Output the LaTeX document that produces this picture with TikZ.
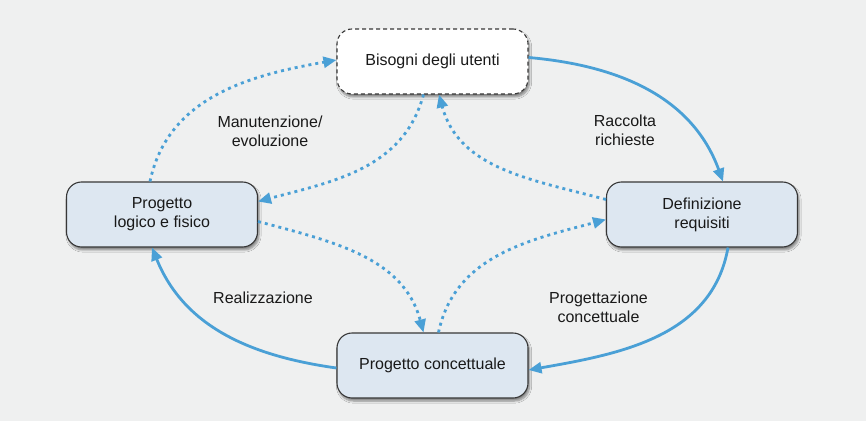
\documentclass[tikz,border=0pt]{standalone}
\usepackage{fontspec}
\setmainfont{Liberation Sans}
\usetikzlibrary{arrows.meta,positioning,shadows.blur}
\definecolor{sfondo}{RGB}{239,240,240}
\definecolor{azzurro}{RGB}{221,231,241}
\definecolor{freccia}{RGB}{74,160,214}
\definecolor{bordo}{RGB}{55,55,55}
\definecolor{testo}{RGB}{25,25,25}
\tikzset{
  fase/.style={draw=bordo,line width=1.1pt,fill=azzurro,rounded corners=15pt,
    minimum width=191pt,minimum height=65pt,inner sep=0pt,align=center,
    text=testo,font=\fontsize{16}{19}\selectfont,
    blur shadow={shadow xshift=1.5pt,shadow yshift=-3pt,shadow blur steps=6,shadow opacity=45}},
  utenti/.style={fase,fill=white,dashed,dash pattern=on 4pt off 3pt},
  etichetta/.style={align=center,text=testo,font=\fontsize{16}{19}\selectfont},
  ciclo/.style={freccia,line width=2.8pt,-{Triangle[length=13pt,width=11pt]}},
  ritorno/.style={ciclo,dash pattern=on 3pt off 4pt}
}
\begin{document}
\begin{tikzpicture}[x=1pt,y=1pt]
\fill[sfondo] (0,0) rectangle (866,421);
\useasboundingbox (0,0) rectangle (866,421);
% fasi
\node[utenti] (bis) at (432.5,359.5) {Bisogni degli utenti};
\node[fase] (log) at (162,206.5) {Progetto\\logico e fisico};
\node[fase] (def) at (702,206.5) {Definizione\\requisiti};
\node[fase] (con) at (432.5,55.5) {Progetto concettuale};
% ciclo principale
\draw[ciclo] ([yshift=4pt]bis.east) to[out=-5,in=110] ([xshift=21pt]def.north);
\draw[ciclo] ([xshift=26pt]def.south) to[out=-100,in=10] ([yshift=-4.5pt]con.east);
\draw[ciclo] ([yshift=-2.5pt]con.west) to[out=172,in=-68] ([xshift=-10pt]log.south);
% ritorni
\draw[ritorno] ([xshift=-12pt]log.north) to[out=78,in=190] ([yshift=1.5pt]bis.west);
\draw[ritorno] ([xshift=-9pt]bis.south) to[out=-105,in=15] ([yshift=13pt]log.east);
\draw[ritorno] ([yshift=15pt]def.west) to[out=165,in=-75] ([xshift=6.5pt]bis.south);
\draw[ritorno] ([yshift=-7pt]log.east) to[out=-15,in=105] ([xshift=-9pt]con.north);
\draw[ritorno] ([xshift=6pt]con.north) to[out=78,in=195] ([yshift=-5pt]def.west);
% etichette
\node[etichetta] (man) at (270,290) {Manutenzione/\\evoluzione};
\node[etichetta] (rac) at (625,291) {Raccolta\\richieste};
\node[etichetta] (rea) at (263,123) {Realizzazione};
\node[etichetta] (prc) at (598.5,113.5) {Progettazione\\concettuale};
\end{tikzpicture}
\end{document}
